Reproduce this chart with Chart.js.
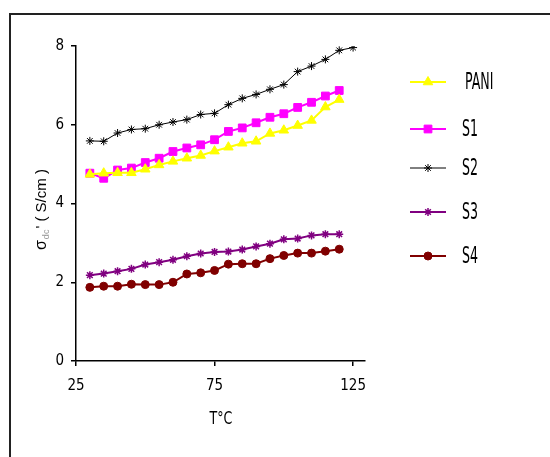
<!DOCTYPE html>
<html>
<head>
<meta charset="utf-8">
<script src="https://cdn.jsdelivr.net/npm/chart.js@4"></script>
<style>
  html, body { margin: 0; background: #fff; overflow: hidden; }
  #myChart { display: block; }
</style>
</head>
<body>
<canvas id="myChart" width="550" height="457"></canvas>
<script>
// temperatures (T °C)
var temps = [30, 35, 40, 45, 50, 55, 60, 65, 70, 75, 80, 85, 90, 95, 100, 105, 110, 115, 120];
var tempsS2 = [30, 35, 40, 45, 50, 55, 60, 65, 70, 75, 80, 85, 90, 95, 100, 105, 110, 115, 120, 125];

// sigma dc (S/cm)
var pani = [4.74, 4.77, 4.78, 4.78, 4.87, 4.98, 5.07, 5.15, 5.22, 5.33, 5.43, 5.53, 5.58, 5.78, 5.86, 5.98, 6.11, 6.45, 6.64];
var s1 = [4.77, 4.64, 4.85, 4.90, 5.04, 5.15, 5.32, 5.41, 5.49, 5.62, 5.83, 5.92, 6.05, 6.19, 6.28, 6.44, 6.57, 6.73, 6.87];
var s2 = [5.59, 5.58, 5.79, 5.88, 5.90, 6.00, 6.07, 6.13, 6.26, 6.29, 6.51, 6.67, 6.77, 6.90, 7.02, 7.35, 7.49, 7.66, 7.89, 7.96];
var s3 = [2.18, 2.22, 2.28, 2.34, 2.45, 2.51, 2.57, 2.66, 2.73, 2.77, 2.78, 2.83, 2.91, 2.98, 3.09, 3.11, 3.19, 3.22, 3.22];
var s4 = [1.87, 1.90, 1.90, 1.95, 1.94, 1.94, 2.00, 2.21, 2.24, 2.30, 2.46, 2.47, 2.47, 2.60, 2.68, 2.74, 2.74, 2.79, 2.84];

var xTicks = [25, 75, 125];
var yTicks = [0, 2, 4, 6, 8];

var narrow = "'Liberation Sans Narrow', 'DejaVu Sans Condensed', 'Arial Narrow', sans-serif";

function pts(xs, ys) {
    var out = [];
    for (var i = 0; i < ys.length; i++) out.push({x: xs[i], y: ys[i]});
    return out;
}

// frame, legend, axis titles
var extras = {
    id: 'extras',
    beforeDraw: function(chart) {
        var ctx = chart.ctx;
        ctx.save();
        ctx.strokeStyle = '#222';
        ctx.lineWidth = 2;
        ctx.beginPath();
        ctx.moveTo(10, 460);
        ctx.lineTo(10, 14);
        ctx.lineTo(560, 14);
        ctx.stroke();
        ctx.restore();
    },
    afterDraw: function(chart) {
        var ctx = chart.ctx;
        // legend on the right
        var rows = [82, 129, 168, 212, 256];
        chart.data.datasets.forEach(function(ds, i) {
            var y = rows[i];
            ctx.save();
            ctx.strokeStyle = ds.borderColor;
            ctx.lineWidth = ds.borderWidth;
            ctx.beginPath();
            ctx.moveTo(410, y);
            ctx.lineTo(446, y);
            ctx.stroke();
            ctx.fillStyle = ds.pointBackgroundColor;
            ctx.strokeStyle = ds.pointBorderColor;
            ctx.lineWidth = ds.pointBorderWidth;
            Chart.helpers.drawPoint(ctx, {pointStyle: ds.pointStyle, radius: ds.pointRadius, rotation: 0, borderWidth: ds.pointBorderWidth}, 428, y);
            ctx.restore();

            ctx.save();
            ctx.fillStyle = '#000';
            ctx.font = '14px ' + narrow;
            ctx.textBaseline = 'middle';
            ctx.translate(i == 0 ? 465 : 462, y + 1);
            ctx.scale(1, 1.6);
            ctx.fillText(ds.label, 0, 0);
            ctx.restore();
        });

        // x title
        ctx.save();
        ctx.fillStyle = '#000';
        ctx.font = '14px ' + narrow;
        ctx.textAlign = 'center';
        ctx.textBaseline = 'middle';
        ctx.translate(221, 419);
        ctx.scale(1, 1.25);
        ctx.fillText('T°C', 0, 0);
        ctx.restore();

        // y title
        ctx.save();
        ctx.translate(46, 250);
        ctx.rotate(-Math.PI / 2);
        ctx.textBaseline = 'alphabetic';
        ctx.fillStyle = '#000';
        ctx.font = '16px Arial, "Liberation Sans", sans-serif';
        ctx.fillText('σ', 0, 0);
        var w = ctx.measureText('σ').width;
        ctx.fillStyle = '#999';
        ctx.font = '9px Arial, "Liberation Sans", sans-serif';
        ctx.fillText('dc', w + 1, 3);
        w += ctx.measureText('dc').width + 2;
        ctx.fillStyle = '#000';
        ctx.font = '15px Arial, "Liberation Sans", sans-serif';
        ctx.fillText("' ( S/cm )", w, 0);
        ctx.restore();
    }
};

var myChart = document.getElementById("myChart").getContext('2d');
var chart = new Chart(myChart, {
    type: "line",
    data: {
        datasets: [
            {
                label: "PANI",
                data: pts(temps, pani),
                borderColor: "#FFFF00",
                backgroundColor: "#FFFF00",
                pointBackgroundColor: "#FFFF00",
                pointBorderColor: "#FFFF00",
                borderWidth: 2,
                pointStyle: "triangle",
                pointRadius: 5.5,
                pointBorderWidth: 1
            },
            {
                label: "S1",
                data: pts(temps, s1),
                borderColor: "#FF00FF",
                backgroundColor: "#FF00FF",
                pointBackgroundColor: "#FF00FF",
                pointBorderColor: "#FF00FF",
                borderWidth: 2,
                pointStyle: "rect",
                pointRadius: 5.5,
                pointBorderWidth: 1
            },
            {
                label: "S2",
                data: pts(tempsS2, s2),
                borderColor: "#000000",
                backgroundColor: "#000000",
                pointBackgroundColor: "#000000",
                pointBorderColor: "#000000",
                borderWidth: 1,
                pointStyle: "star",
                pointRadius: 4,
                pointBorderWidth: 1
            },
            {
                label: "S3",
                data: pts(temps, s3),
                borderColor: "#800080",
                backgroundColor: "#800080",
                pointBackgroundColor: "#800080",
                pointBorderColor: "#800080",
                borderWidth: 2,
                pointStyle: "star",
                pointRadius: 4,
                pointBorderWidth: 1.5
            },
            {
                label: "S4",
                data: pts(temps, s4),
                borderColor: "#800000",
                backgroundColor: "#800000",
                pointBackgroundColor: "#800000",
                pointBorderColor: "#800000",
                borderWidth: 2,
                pointStyle: "circle",
                pointRadius: 4,
                pointBorderWidth: 1
            }
        ]
    },
    options: {
        responsive: false,
        animation: false,
        layout: {padding: {top: 46, right: 185, left: 0, bottom: 0}},
        plugins: {legend: {display: false}, tooltip: {enabled: false}},
        scales: {
            x: {
                type: "linear",
                min: 25,
                max: 129.3,
                afterBuildTicks: function(scale) {
                    scale.ticks = xTicks.map(function(v) { return {value: v}; });
                },
                afterFit: function(scale) { scale.height = 96; },
                grid: {drawOnChartArea: false, drawTicks: true, tickLength: 5, color: "#000", lineWidth: 1.5},
                border: {color: "#000", width: 1.5},
                ticks: {color: "#000", font: {family: narrow, size: 15}, padding: 11, maxRotation: 0}
            },
            y: {
                min: 0,
                max: 8,
                afterBuildTicks: function(scale) {
                    scale.ticks = yTicks.map(function(v) { return {value: v}; });
                },
                afterFit: function(scale) { scale.width = 76; },
                grid: {drawOnChartArea: false, drawTicks: true, tickLength: 5, color: "#000", lineWidth: 1.5},
                border: {color: "#000", width: 1.5},
                ticks: {color: "#000", font: {family: narrow, size: 15}, padding: 7}
            }
        }
    },
    plugins: [extras]
});
</script>
</body>
</html>
